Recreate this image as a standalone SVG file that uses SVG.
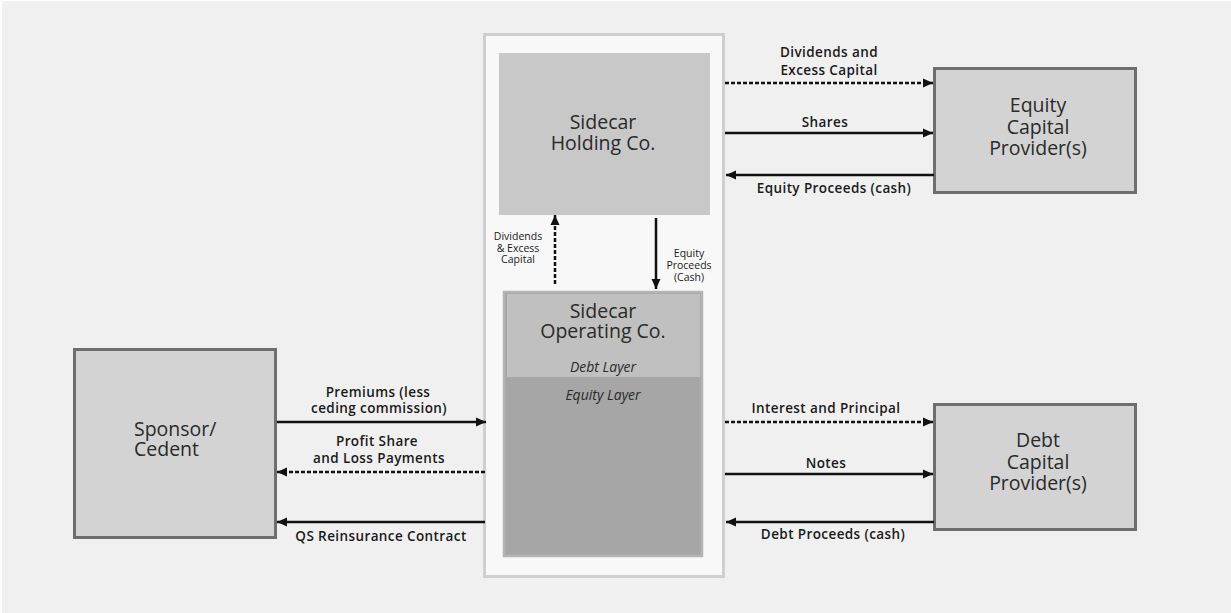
<svg xmlns="http://www.w3.org/2000/svg" width="1231" height="613" viewBox="0 0 1231 613">
<defs>
<style>
.node{font-family:"Open Sans","Noto Sans",sans-serif;font-size:19.5px;fill:#2a2a2a;text-anchor:middle}
.lyr{font-family:"Open Sans","Noto Sans",sans-serif;font-size:14px;font-style:italic;fill:#2a2a2a;text-anchor:middle}
.lbl{font-family:"Open Sans","Noto Sans",sans-serif;font-size:13.5px;font-weight:600;letter-spacing:0.4px;fill:#1a1a1a;text-anchor:middle}
.sm{font-family:"Open Sans","Noto Sans",sans-serif;font-size:10.5px;fill:#1a1a1a;text-anchor:middle}
.box{fill:#d3d3d3;stroke:#6e6e6e;stroke-width:3}
.ln{stroke:#111;stroke-width:2.5;fill:none;marker-end:url(#ah)}
.dash{stroke-dasharray:4 2}
</style>
<marker id="ah" markerUnits="userSpaceOnUse" markerWidth="10" markerHeight="10" refX="10" refY="5" orient="auto">
<path d="M0,0.5 L10,5 L0,9.5 z" fill="#111"/>
</marker>
</defs>
<rect x="0" y="0" width="1231" height="613" fill="#ffffff"/>
<rect x="2" y="1" width="1229" height="612" fill="#f0f0f0"/>

<g id="sidecar-container">
<rect x="484.5" y="34.5" width="239" height="542" fill="#f8f8f8" stroke="#cfcfcf" stroke-width="3"/>
</g>

<g id="holding-co">
<rect x="499" y="53" width="211" height="162" fill="#c8c8c8"/>
<text class="node" x="603" y="129">Sidecar</text>
<text class="node" x="603" y="150">Holding Co.</text>
</g>

<g id="operating-co">
<rect x="504" y="292" width="198" height="264" fill="#a6a6a6" stroke="#b4b4b4" stroke-width="2.5"/>
<rect x="507" y="294" width="193" height="83" fill="#c0c0c0"/>
<text class="node" x="603" y="318">Sidecar</text>
<text class="node" x="603" y="338">Operating Co.</text>
<text class="lyr" x="603" y="372">Debt Layer</text>
<text class="lyr" x="603" y="400">Equity Layer</text>
</g>

<g id="equity-provider">
<rect class="box" x="934.5" y="68.5" width="201" height="124"/>
<text class="node" x="1038" y="112">Equity</text>
<text class="node" x="1038" y="134">Capital</text>
<text class="node" x="1038" y="155">Provider(s)</text>
</g>

<g id="debt-provider">
<rect class="box" x="934.5" y="404.5" width="201" height="125"/>
<text class="node" x="1038" y="447">Debt</text>
<text class="node" x="1038" y="469">Capital</text>
<text class="node" x="1038" y="490">Provider(s)</text>
</g>

<g id="sponsor">
<rect class="box" x="74.5" y="349.5" width="201" height="188"/>
<text class="node" x="134" y="436" style="text-anchor:start">Sponsor/</text>
<text class="node" x="134" y="456" style="text-anchor:start">Cedent</text>
</g>

<g id="connectors">
<line class="ln dash" x1="725" y1="83" x2="933" y2="83"/>
<line class="ln" x1="725" y1="133" x2="933" y2="133"/>
<line class="ln" x1="934" y1="175" x2="726" y2="175"/>
<line class="ln dash" x1="725" y1="422" x2="933" y2="422"/>
<line class="ln" x1="725" y1="474" x2="933" y2="474"/>
<line class="ln" x1="934" y1="522" x2="726" y2="522"/>
<line class="ln" x1="277" y1="422" x2="486" y2="422"/>
<line class="ln dash" x1="485" y1="472" x2="277" y2="472"/>
<line class="ln" x1="485" y1="522" x2="277" y2="522"/>
<line class="ln dash" x1="555" y1="284" x2="555" y2="215"/>
<line class="ln" x1="656" y1="218" x2="656" y2="289"/>

<text class="lbl" x="829" y="57">Dividends and</text>
<text class="lbl" x="829" y="75">Excess Capital</text>
<text class="lbl" x="825" y="127">Shares</text>
<text class="lbl" x="834" y="193">Equity Proceeds (cash)</text>
<text class="lbl" x="826" y="413">Interest and Principal</text>
<text class="lbl" x="826" y="468">Notes</text>
<text class="lbl" x="833" y="539">Debt Proceeds (cash)</text>
<text class="lbl" x="378" y="397">Premiums (less</text>
<text class="lbl" x="379" y="413">ceding commission)</text>
<text class="lbl" x="377" y="446">Profit Share</text>
<text class="lbl" x="379" y="463">and Loss Payments</text>
<text class="lbl" x="381" y="541">QS Reinsurance Contract</text>

<text class="sm" x="518" y="240">Dividends</text>
<text class="sm" x="518" y="252">&amp; Excess</text>
<text class="sm" x="518" y="263">Capital</text>
<text class="sm" x="689" y="257">Equity</text>
<text class="sm" x="689" y="269">Proceeds</text>
<text class="sm" x="689" y="281">(Cash)</text>
</g>
</svg>
